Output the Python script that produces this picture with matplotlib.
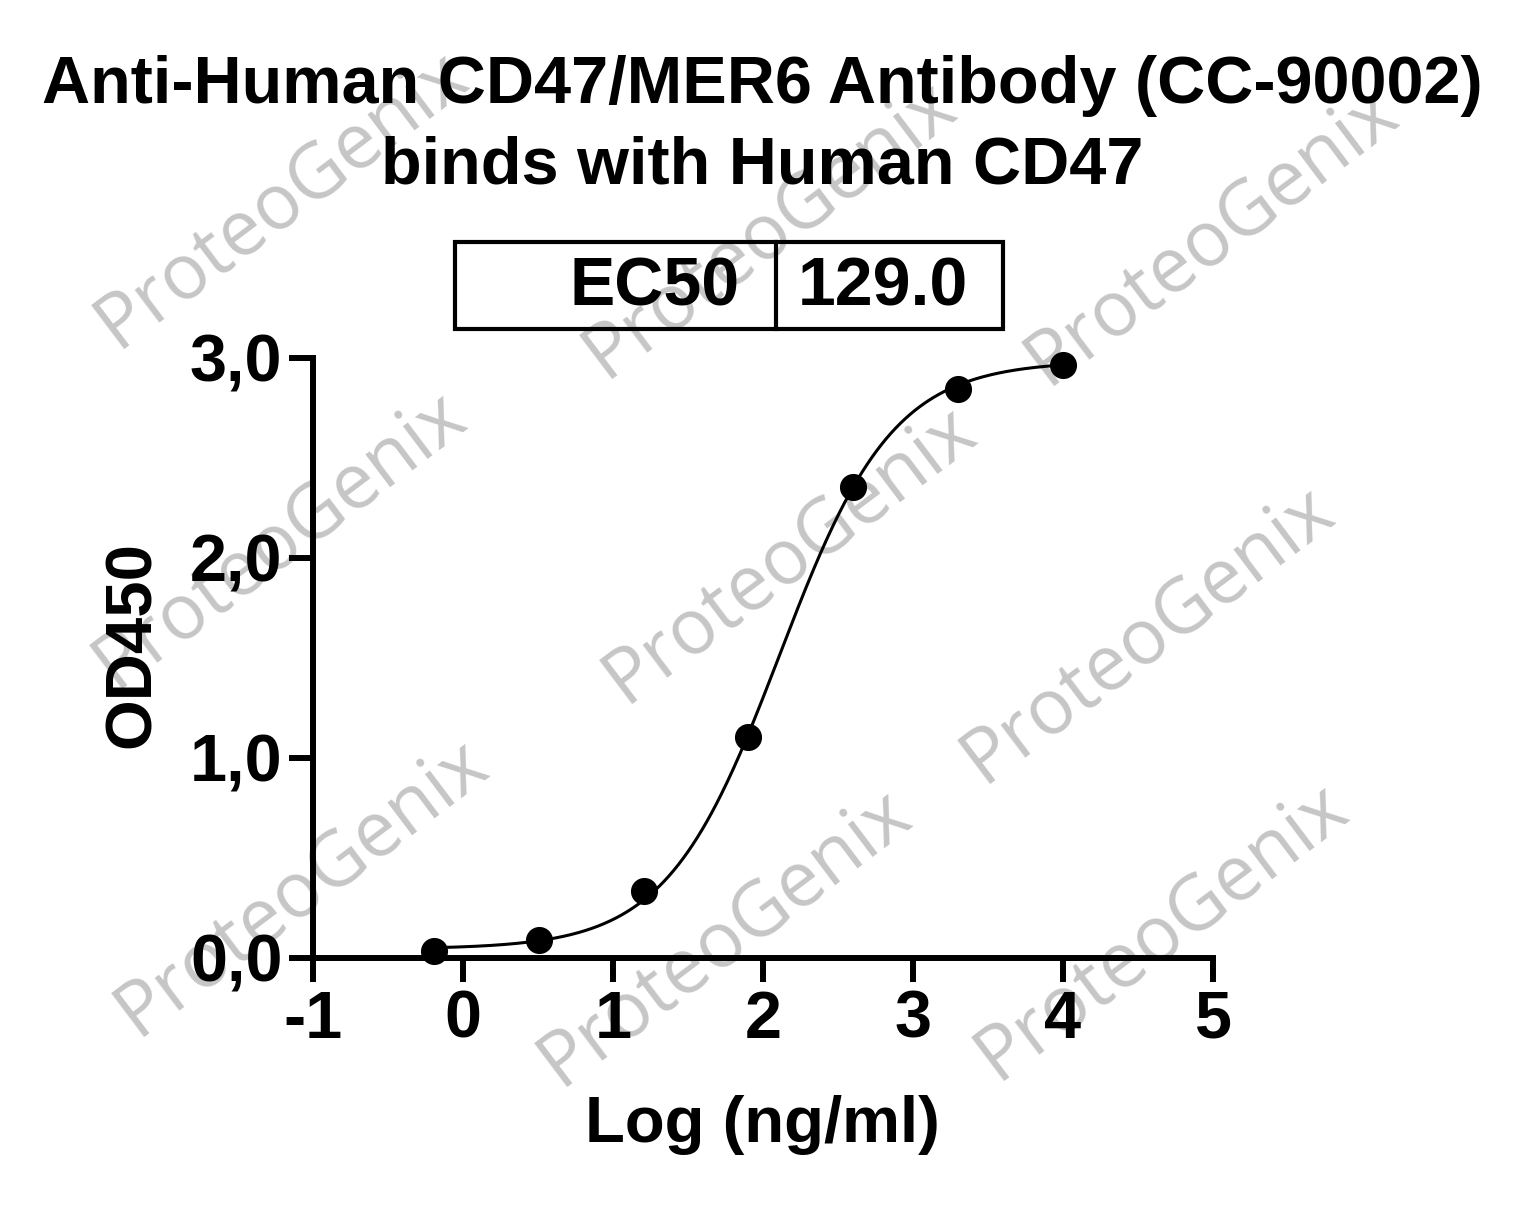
import numpy as np
import matplotlib
matplotlib.use("Agg")
import matplotlib.pyplot as plt
from matplotlib.patches import Rectangle
from matplotlib.lines import Line2D
from matplotlib.ticker import FuncFormatter

# data
log_conc = [-0.194, 0.505, 1.204, 1.903, 2.602, 3.301, 4.0]
od450 = [0.035, 0.09, 0.335, 1.105, 2.355, 2.845, 2.965]

# 4PL fit parameters (estimated from the drawn curve)
fit_bottom = 0.045
fit_top = 2.985
ec50 = 129.0
fit_hill = 1.15

xticks = [-1, 0, 1, 2, 3, 4, 5]
yticks = [0.0, 1.0, 2.0, 3.0]

title_line1 = "Anti-Human CD47/MER6 Antibody (CC-90002)"
title_line2 = "binds with Human CD47"
xlabel = "Log (ng/ml)"
ylabel = "OD450"
table_cells = ["EC50", "129.0"]
watermark = "ProteoGenix"

plt.rcParams['font.family'] = ['Liberation Sans', 'DejaVu Sans']
plt.rcParams['font.weight'] = 'bold'
plt.rcParams['axes.unicode_minus'] = False

W, H = 1525, 1207
fig = plt.figure(figsize=(W / 100, H / 100), dpi=100)


def fx(px):
    return px / W


def fy(py):
    return 1 - py / H


# watermarks in the background
wm_centers = [(282, 200), (770, 230), (1212, 237),
              (280, 540), (790, 555), (1148, 635),
              (302, 888), (725, 938), (1162, 932)]
for cx, cy in wm_centers:
    fig.text(fx(cx), fy(cy), watermark, family='Open Sans', weight='normal',
             fontsize=55, color='#c6c6c6', rotation=37, rotation_mode='anchor',
             ha='center', va='center', zorder=-5)

ax = fig.add_axes([fx(313), fy(958), fx(1213) - fx(313), fy(358) - fy(958)])
ax.patch.set_alpha(0)
ax.set_zorder(2)

xs = np.linspace(log_conc[0], log_conc[-1], 400)
log_ec50 = np.log10(ec50)
ys = fit_bottom + (fit_top - fit_bottom) / (1 + 10 ** ((log_ec50 - xs) * fit_hill))
ax.plot(xs, ys, color='black', lw=2.2, clip_on=False, zorder=3)
ax.plot(log_conc, od450, 'o', color='black', ms=18.5, clip_on=False, zorder=4)

ax.set_xlim(-1, 5)
ax.set_ylim(0, 3)
ax.set_xticks(xticks)
ax.set_yticks(yticks)
ax.yaxis.set_major_formatter(FuncFormatter(lambda v, p: f"{v:.1f}".replace('.', ',')))
for s in ['top', 'right']:
    ax.spines[s].set_visible(False)
for s in ['left', 'bottom']:
    ax.spines[s].set_linewidth(4.3)
    ax.spines[s].set_capstyle('projecting')
ax.tick_params(axis='both', length=17, width=4.3, labelsize=48, color='black')
ax.tick_params(axis='y', pad=5)
ax.tick_params(axis='x', pad=6)
for lab in ax.get_xticklabels() + ax.get_yticklabels():
    lab.set_fontweight('bold')

fig.text(fx(762), fy(1125), xlabel, fontsize=47, weight='bold', ha='center', va='center', zorder=3)
fig.text(fx(133), fy(645), ylabel, fontsize=47, weight='bold', rotation=90,
         ha='center', va='center', zorder=3)

# title
fig.text(0.5, fy(103), title_line1, fontsize=48, weight='bold', ha='center', va='baseline', zorder=3)
fig.text(0.5, fy(183), title_line2, fontsize=48, weight='bold', ha='center', va='baseline', zorder=3)

# EC50 table box
box = Rectangle((fx(455), fy(329)), fx(1003) - fx(455), fy(242) - fy(329),
                transform=fig.transFigure, fill=False, lw=3, ec='black', zorder=3)
fig.add_artist(box)
fig.add_artist(Line2D([fx(776), fx(776)], [fy(329), fy(242)],
                      transform=fig.transFigure, lw=3, color='black', zorder=3))
fig.text(fx(740), fy(306), table_cells[0], fontsize=49, weight='bold', ha='right', va='baseline', zorder=3)
fig.text(fx(968), fy(306), table_cells[1], fontsize=49, weight='bold', ha='right', va='baseline', zorder=3)

fig.savefig("out.png", dpi=100)
